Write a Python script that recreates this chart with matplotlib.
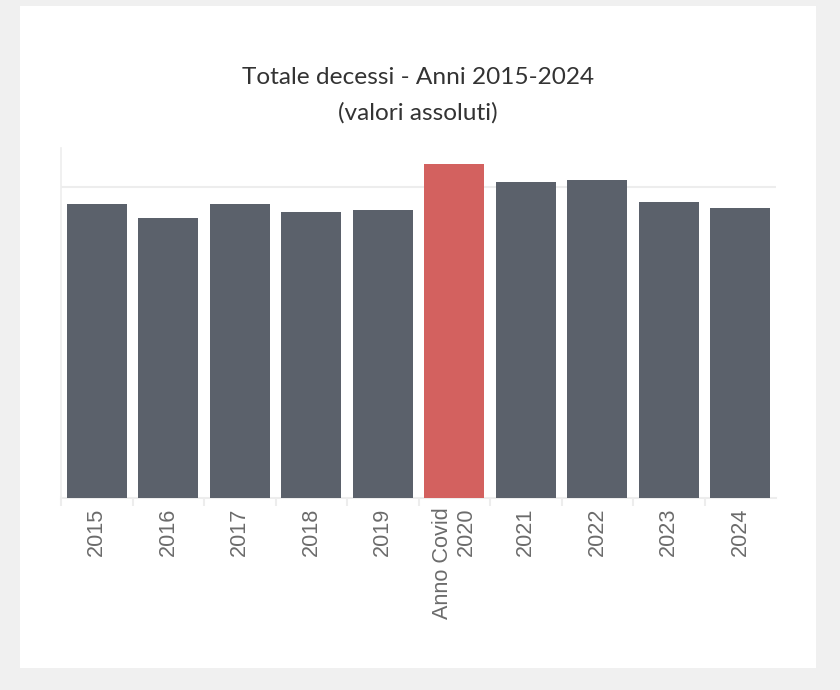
import numpy as np
import matplotlib
matplotlib.use("Agg")
from matplotlib import pyplot as plt

# Dati
anni = ["2015", "2016", "2017", "2018", "2019", "Anno Covid\n2020",
        "2021", "2022", "2023", "2024"]
decessi = [661100, 629600, 661100, 643100, 647600, 751100,
           710600, 715100, 665600, 652100]
evidenza = [False, False, False, False, False, True,
            False, False, False, False]

COL_BAR = "#5b616b"
COL_COVID = "#d3615f"
COL_BG = "#f0f0f0"
COL_GRID = "#ededed"

W, H = 840, 690
fig = plt.figure(figsize=(W / 100, H / 100), dpi=100, facecolor=COL_BG)

# pannello bianco
card = plt.Rectangle((20 / W, 1 - 668 / H), (816 - 20) / W, (668 - 6) / H,
                     transform=fig.transFigure, facecolor="white",
                     edgecolor="none", zorder=-10)
fig.patches.append(card)

# titolo
fig.text(418 / W, 1 - 84 / H, "Totale decessi - Anni 2015-2024",
         ha="center", va="baseline", fontsize=17.6, color="#333333",
         family=["Lato", "DejaVu Sans"])
fig.text(418 / W, 1 - 120 / H, "(valori assoluti)",
         ha="center", va="baseline", fontsize=17.6, color="#333333",
         family=["Lato", "DejaVu Sans"])

left, right, top, bottom = 61, 776, 148, 498
ax = fig.add_axes([left / W, 1 - bottom / H, (right - left) / W, (bottom - top) / H])
ax.set_facecolor("none")

x = np.arange(len(anni))
colori = [COL_COVID if e else COL_BAR for e in evidenza]
ax.bar(x, decessi, width=0.84, color=colori, zorder=3)

ax.set_xlim(-0.5, len(anni) - 0.5)
ax.set_ylim(0, 787000)
ax.axhline(700000, color=COL_GRID, lw=1.5, zorder=1)

for s in ["top", "right"]:
    ax.spines[s].set_visible(False)
ax.spines["left"].set_color(COL_GRID)
ax.spines["left"].set_linewidth(1.2)
ax.spines["bottom"].set_color(COL_GRID)
ax.spines["bottom"].set_linewidth(1.5)

ax.set_yticks([])
ax.set_xticks(x)
ax.set_xticklabels(anni, rotation=90, ha="center", va="top",
                   multialignment="right", fontsize=15.6, color="#6b6b6b",
                   family=["Liberation Sans", "DejaVu Sans"])
ax.tick_params(axis="x", which="major", length=0, pad=7)
# separatori tra le categorie (senza l'ultimo)
ax.set_xticks(np.arange(-0.5, len(anni) - 1, 1), minor=True)
ax.tick_params(axis="x", which="minor", length=6, width=1.5, color=COL_GRID)

fig.savefig("out.png", dpi=100, facecolor=COL_BG)
